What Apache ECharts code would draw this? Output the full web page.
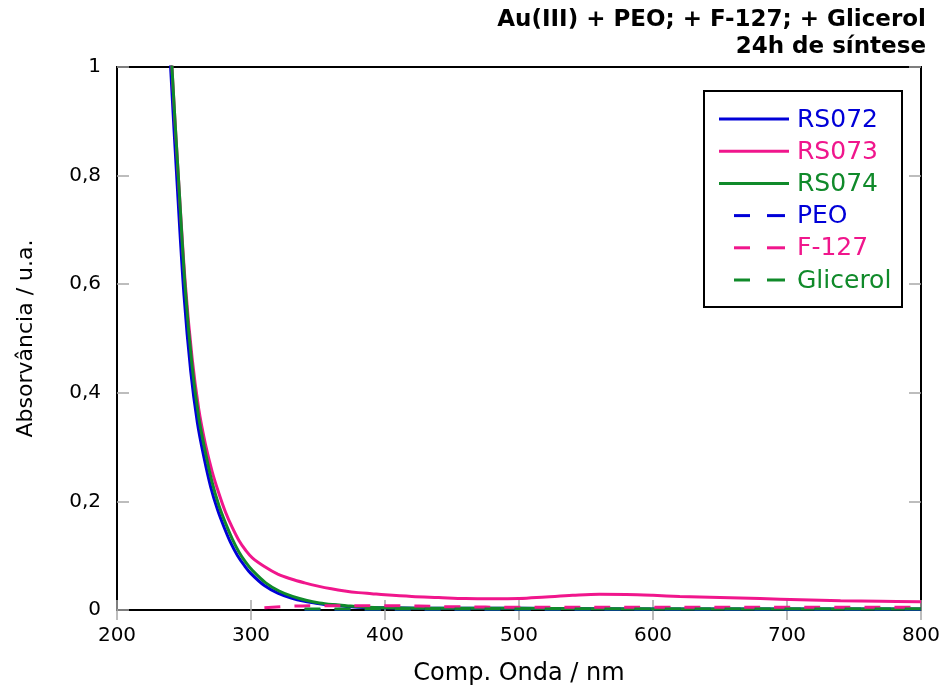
<!DOCTYPE html>
<html>
<head>
<meta charset="utf-8">
<script src="https://cdn.jsdelivr.net/npm/echarts@6/dist/echarts.min.js"></script>
<style>
  html, body { margin: 0; padding: 0; background: #fff; }
  #chart { width: 946px; height: 691px; }
</style>
</head>
<body>
<div id="chart"></div>
<script>
// UV-Vis spectra of gold syntheses after 24 h, plus stabiliser blanks
const titleLines = ['Au(III) + PEO; + F-127; + Glicerol', '24h de síntese'];
const xTicks = [200, 300, 400, 500, 600, 700, 800];
const yTicks = [0, 0.2, 0.4, 0.6, 0.8, 1];

const seriesNames = ['RS072', 'RS073', 'RS074', 'PEO', 'F-127', 'Glicerol'];
const seriesColors = ['#0000d8', '#f0168c', '#108a2a', '#0000d8', '#f0168c', '#108a2a'];
const seriesDashed = [false, false, false, true, true, true];

// wavelength (nm), absorbance
const rs072 = [
  [235, 1.25], [240, 1.0], [245, 0.78], [250, 0.58], [255, 0.44], [260, 0.345],
  [265, 0.28], [270, 0.226], [275, 0.185], [280, 0.152], [285, 0.123],
  [290, 0.100], [295, 0.082], [300, 0.067], [310, 0.045], [320, 0.031],
  [330, 0.022], [340, 0.016], [350, 0.012], [360, 0.009], [370, 0.007],
  [380, 0.005], [400, 0.004], [450, 0.003], [500, 0.003], [600, 0.002],
  [700, 0.002], [800, 0.002]
];
const rs073 = [
  [236, 1.25], [241, 1.0], [246, 0.79], [251, 0.60], [256, 0.465], [261, 0.37],
  [266, 0.305], [271, 0.255], [276, 0.215], [281, 0.180], [286, 0.152],
  [291, 0.128], [296, 0.110], [301, 0.096], [310, 0.080], [320, 0.066],
  [330, 0.057], [340, 0.050], [350, 0.044], [360, 0.039], [370, 0.035],
  [380, 0.032], [390, 0.030], [400, 0.028], [420, 0.025], [440, 0.023],
  [460, 0.021], [480, 0.0205], [500, 0.021], [520, 0.024], [540, 0.027],
  [560, 0.029], [580, 0.0285], [600, 0.027], [620, 0.025], [650, 0.023],
  [680, 0.021], [710, 0.019], [740, 0.017], [770, 0.016], [800, 0.015]
];
const rs074 = [
  [236, 1.25], [241, 1.0], [246, 0.79], [251, 0.59], [256, 0.45], [261, 0.355],
  [266, 0.29], [271, 0.235], [276, 0.193], [281, 0.160], [286, 0.131],
  [291, 0.107], [296, 0.088], [301, 0.073], [311, 0.050], [321, 0.035],
  [331, 0.025], [341, 0.018], [351, 0.013], [361, 0.010], [371, 0.008],
  [381, 0.006], [400, 0.004], [450, 0.003], [500, 0.003], [600, 0.002],
  [700, 0.002], [800, 0.002]
];
const peo = [
  [340, 0.001], [400, 0.001], [500, 0.001], [600, 0.001], [700, 0.001], [800, 0.001]
];
const f127 = [
  [310, 0.004], [330, 0.007], [350, 0.008], [400, 0.008], [450, 0.006],
  [500, 0.005], [600, 0.005], [700, 0.005], [800, 0.005]
];
const glicerol = [
  [340, 0.002], [400, 0.002], [500, 0.002], [600, 0.002], [700, 0.002], [800, 0.002]
];
const seriesData = [rs072, rs073, rs074, peo, f127, glicerol];

const FONT = 'DejaVu Sans';
const grid = { left: 117, right: 25, top: 67, bottom: 81 };

const chart = echarts.init(document.getElementById('chart'), null, { renderer: 'canvas' });

const tickStyle = { show: true, inside: true, length: 10, lineStyle: { color: '#a8a8a8', width: 1.5 } };

const series = seriesNames.map((name, i) => ({
  name,
  type: 'line',
  data: seriesData[i],
  showSymbol: false,
  smooth: 0.35,
  clip: true,
  z: seriesDashed[i] ? 3 : 2,
  lineStyle: {
    color: seriesColors[i],
    width: 3,
    type: seriesDashed[i] ? [16, 14] : 'solid'
  }
}));

// legend box drawn as graphic elements
const legendBox = { x: 704, y: 91, w: 198, h: 216 };
const rowY0 = 119, rowStep = 32.2;
const legendGraphics = [{
  type: 'rect',
  shape: { x: legendBox.x, y: legendBox.y, width: legendBox.w, height: legendBox.h },
  style: { fill: '#fff', stroke: '#000', lineWidth: 2 },
  z: 10
}];
seriesNames.forEach((name, i) => {
  const y = rowY0 + i * rowStep;
  if (seriesDashed[i]) {
    [[734, 750], [767, 785]].forEach(([a, b]) => legendGraphics.push({
      type: 'line', shape: { x1: a, y1: y, x2: b, y2: y },
      style: { stroke: seriesColors[i], lineWidth: 3 }, z: 11
    }));
  } else {
    legendGraphics.push({
      type: 'line', shape: { x1: 719, y1: y, x2: 789, y2: y },
      style: { stroke: seriesColors[i], lineWidth: 3 }, z: 11
    });
  }
  legendGraphics.push({
    type: 'text', x: 797, y: y + 1,
    style: { text: name, fill: seriesColors[i], font: '25px "' + FONT + '"', verticalAlign: 'middle' },
    z: 11
  });
});

const titleGraphics = titleLines.map((t, i) => ({
  type: 'text', right: 20, top: 9 + i * 27,
  style: { text: t, fill: '#000', font: 'bold 23px "' + FONT + '"' },
  z: 11
}));

chart.setOption({
  animation: false,
  backgroundColor: '#fff',
  grid: {
    ...grid, containLabel: false, outerBoundsMode: 'none',
    show: true, borderColor: '#000', borderWidth: 2, backgroundColor: 'transparent'
  },
  xAxis: [{
    type: 'value', min: xTicks[0], max: xTicks[xTicks.length - 1], interval: 100,
    position: 'bottom',
    name: 'Comp. Onda / nm', nameLocation: 'middle', nameGap: 52,
    nameTextStyle: { fontFamily: FONT, fontSize: 24, color: '#000' },
    axisLine: { show: false },
    axisTick: tickStyle,
    axisLabel: { fontFamily: FONT, fontSize: 20, color: '#000', margin: 16 },
    splitLine: { show: false }
  }, {
    type: 'value', min: xTicks[0], max: xTicks[xTicks.length - 1], interval: 100,
    position: 'top',
    axisLine: { show: false },
    axisTick: tickStyle,
    axisLabel: { show: false },
    splitLine: { show: false }
  }],
  yAxis: [{
    type: 'value', min: yTicks[0], max: yTicks[yTicks.length - 1], interval: 0.2,
    position: 'left',
    name: 'Absorvância / u.a.', nameLocation: 'middle', nameGap: 80, nameRotate: 90,
    nameTextStyle: { fontFamily: FONT, fontSize: 22, color: '#000' },
    axisLine: { show: false },
    axisTick: { ...tickStyle, length: 12 },
    axisLabel: {
      fontFamily: FONT, fontSize: 20, color: '#000', margin: 16,
      formatter: v => String(Math.round(v * 10) / 10).replace('.', ',')
    },
    splitLine: { show: false }
  }, {
    type: 'value', min: yTicks[0], max: yTicks[yTicks.length - 1], interval: 0.2,
    position: 'right',
    axisLine: { show: false },
    axisTick: { ...tickStyle, length: 12 },
    axisLabel: { show: false },
    splitLine: { show: false }
  }],
  series,
  graphic: [...titleGraphics, ...legendGraphics]
});
</script>
</body>
</html>
